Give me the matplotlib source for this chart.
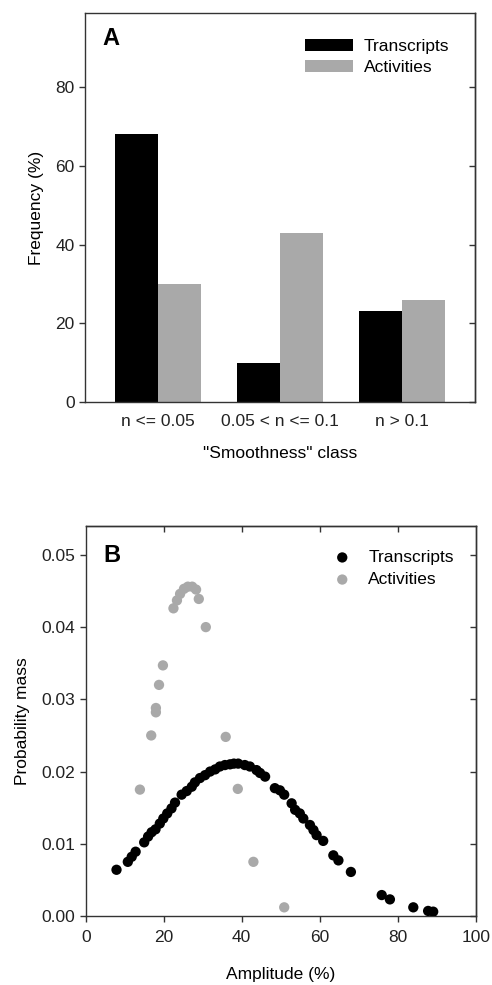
import numpy as np
import matplotlib.pyplot as plt

plt.rcParams['font.family'] = ['Liberation Sans', 'DejaVu Sans']
plt.rcParams['font.size'] = 12.5

# Panel A: "smoothness" class frequencies
classes = ['n <= 0.05', '0.05 < n <= 0.1', 'n > 0.1']
freq_transcripts = [68, 10, 23]
freq_activities = [30, 43, 26]

# Panel B: amplitude distributions
amp_transcripts = [7.9, 10.8, 11.8, 12.8, 15.0, 16.0, 16.9, 17.9, 19.0, 19.9, 20.9, 22.0,
                   22.9, 24.6, 25.9, 27.2, 28.0, 29.3, 30.6, 31.9, 33.2, 34.4, 35.7, 37.0,
                   38.0, 39.1, 40.8, 42.1, 43.8, 44.7, 46.0, 48.5, 49.8, 50.9, 52.8, 53.7,
                   54.9, 55.8, 57.5, 58.4, 59.2, 60.9, 63.5, 64.8, 68.0, 75.9, 78.0, 84.0,
                   87.8, 89.1]
pm_transcripts = [0.0064, 0.0075, 0.0082, 0.0089, 0.0102, 0.0110, 0.0116, 0.0120, 0.0128,
                  0.0135, 0.0142, 0.0149, 0.0157, 0.0168, 0.0173, 0.0179, 0.0185, 0.0191,
                  0.0195, 0.0200, 0.0203, 0.0207, 0.0209, 0.0210, 0.0211, 0.0211, 0.0209,
                  0.0207, 0.0202, 0.0198, 0.0193, 0.0177, 0.0174, 0.0168, 0.0156, 0.0147,
                  0.0142, 0.0135, 0.0126, 0.0119, 0.0112, 0.0104, 0.0084, 0.0077, 0.0061,
                  0.0029, 0.0023, 0.0012, 0.0007, 0.0006]
amp_activities = [13.9, 16.8, 18.0, 18.0, 18.8, 19.8, 22.5, 23.4, 24.2, 25.2, 26.2, 27.3,
                  28.3, 29.0, 30.8, 35.9, 39.0, 43.0, 50.9]
pm_activities = [0.0175, 0.0250, 0.0282, 0.0288, 0.0320, 0.0347, 0.0426, 0.0437, 0.0446,
                 0.0453, 0.0456, 0.0456, 0.0452, 0.0439, 0.0400, 0.0248, 0.0176, 0.0075,
                 0.0012]

black = '#000000'
grey = '#a9a9a9'
spine_col = '#333333'

fig = plt.figure(figsize=(4.92, 9.85), dpi=100)


def style_axes(ax):
    for s in ax.spines.values():
        s.set_color(spine_col)
        s.set_linewidth(1.0)
    ax.tick_params(axis='both', which='both', colors=spine_col, labelcolor='#222222',
                   length=4, width=1.0)


def inner_ticks(ax, side, ticks):
    # mirrored ticks pointing inwards, no labels
    if side in ('right', 'left'):
        sec = ax.secondary_yaxis(side)
        sec.set_yticks(ticks)
    else:
        sec = ax.secondary_xaxis(side)
        sec.set_xticks(ticks)
    sec.tick_params(direction='in', length=4, width=1.0, colors=spine_col,
                    labelleft=False, labelright=False, labeltop=False, labelbottom=False)
    for s in sec.spines.values():
        s.set_color(spine_col)
        s.set_linewidth(1.0)
    return sec


# ---- Panel A ----
axA = fig.add_axes([85 / 492, 1 - 402 / 985, 390 / 492, 389 / 985])
x = np.arange(len(classes))
w = 0.35
axA.bar(x - w / 2, freq_transcripts, w, color=black, label='Transcripts')
axA.bar(x + w / 2, freq_activities, w, color=grey, label='Activities')
axA.set_xlim(-0.6, 2.6)
axA.set_ylim(0, 98.8)
axA.set_yticks([0, 20, 40, 60, 80])
axA.set_xticks(x)
axA.set_xticklabels(classes)
style_axes(axA)
axA.tick_params(axis='x', length=0, pad=9)
inner_ticks(axA, 'right', [0, 20, 40, 60, 80])
axA.set_ylabel('Frequency (%)', labelpad=8)
axA.set_xlabel('"Smoothness" class', labelpad=12)
axA.text(0.045, 0.935, 'A', transform=axA.transAxes, fontsize=17, fontweight='bold',
         va='center', ha='left')
axA.legend(loc='upper right', frameon=False, handlelength=2.8, handleheight=0.7,
           handletextpad=0.6, labelspacing=0.35, bbox_to_anchor=(0.965, 0.965),
           borderaxespad=0.3)

# ---- Panel B ----
axB = fig.add_axes([85.7 / 492, 1 - 916 / 985, 390 / 492, 390 / 985])
axB.scatter(amp_transcripts, pm_transcripts, s=55, color=black, edgecolors='none',
            label='Transcripts', zorder=3)
axB.scatter(amp_activities, pm_activities, s=55, color=grey, edgecolors='none',
            label='Activities', zorder=2)
axB.set_xlim(0, 100)
axB.set_ylim(0, 0.054)
axB.set_xticks([0, 20, 40, 60, 80, 100])
axB.set_yticks([0.00, 0.01, 0.02, 0.03, 0.04, 0.05])
axB.set_yticklabels(['0.00', '0.01', '0.02', '0.03', '0.04', '0.05'])
style_axes(axB)
axB.tick_params(axis='x', pad=6)
inner_ticks(axB, 'right', [0.00, 0.01, 0.02, 0.03, 0.04, 0.05])
inner_ticks(axB, 'top', [20, 40, 60, 80])
axB.set_ylabel('Probability mass', labelpad=8)
axB.set_xlabel('Amplitude (%)', labelpad=16)
axB.text(0.045, 0.925, 'B', transform=axB.transAxes, fontsize=17, fontweight='bold',
         va='center', ha='left')
axB.legend(loc='upper right', frameon=False, handletextpad=0.5, labelspacing=0.4,
           bbox_to_anchor=(0.975, 0.97), borderaxespad=0.3, scatterpoints=1)

fig.savefig('out.png', dpi=100)
